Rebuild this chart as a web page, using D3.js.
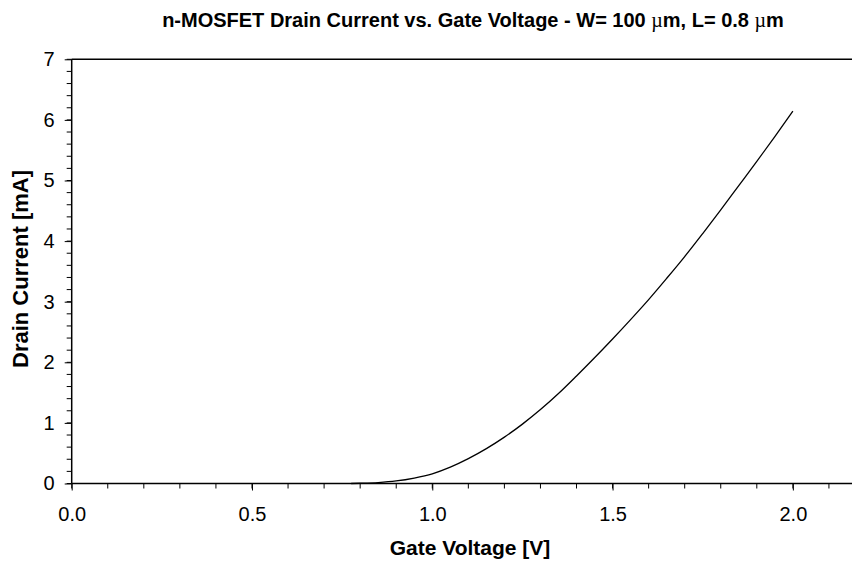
<!DOCTYPE html>
<html><head><meta charset="utf-8">
<script src="https://cdn.jsdelivr.net/npm/d3@7"></script>
<style>body{margin:0;background:#fff}svg{display:block}</style>
</head><body>
<svg id="c" width="852" height="563"></svg>
<script>
const gateVoltage = [0.775,0.8,0.85,0.9,0.95,1.0,1.05,1.1,1.15,1.2,1.25,1.3,1.35,1.4,1.45,1.5,1.55,1.6,1.65,1.7,1.75,1.8,1.85,1.9,1.95,2.0];
const drainCurrent = [0,0.004,0.016,0.042,0.09,0.16,0.27,0.41,0.575,0.765,0.98,1.22,1.485,1.775,2.075,2.385,2.705,3.035,3.385,3.745,4.125,4.515,4.915,5.315,5.725,6.145];
const xTicks = [0,0.5,1.0,1.5,2.0];
const yTicks = [0,1,2,3,4,5,6,7];

const svg = d3.select("#c");
const x = d3.scaleLinear().domain([0,2.164]).range([71.7,852]);
const y = d3.scaleLinear().domain([0,7]).range([483.5,59.3]);
const font = "Arial, 'Liberation Sans', sans-serif";

// top frame line
svg.append("line").attr("x1",x(0)).attr("x2",852).attr("y1",y(7)).attr("y2",y(7))
  .attr("stroke","#000").attr("stroke-width",1.5);

// minor ticks
const xMinor = d3.range(0,2.17,0.1);
svg.append("g").selectAll("line").data(xMinor).join("line")
  .attr("x1",d=>x(d)).attr("x2",d=>x(d)).attr("y1",y(0)).attr("y2",y(0)+5)
  .attr("stroke","#000").attr("stroke-width",1);
const yMinor = d3.range(0,7.01,0.2);
svg.append("g").selectAll("line").data(yMinor).join("line")
  .attr("x1",x(0)-5).attr("x2",x(0)).attr("y1",d=>y(d)).attr("y2",d=>y(d))
  .attr("stroke","#000").attr("stroke-width",1);

// axes
const xAxis = svg.append("g").attr("transform",`translate(0,${y(0)})`)
  .call(d3.axisBottom(x).tickValues(xTicks).tickFormat(d3.format(".1f")).tickSize(7).tickPadding(16));
xAxis.select(".domain").attr("d",`M${x(0)},0H852`).attr("stroke-width",1.5);
const yAxis = svg.append("g").attr("transform",`translate(${x(0)},0)`)
  .call(d3.axisLeft(y).tickValues(yTicks).tickFormat(d3.format("d")).tickSize(7).tickPadding(10));
yAxis.select(".domain").attr("d",`M0,${y(0)}V${y(7)}`).attr("stroke-width",1.5);
svg.selectAll(".tick text").attr("font-family",font).attr("font-size",20).attr("fill","#000");
svg.selectAll(".tick line").attr("stroke-width",1);

// curve
const pts = gateVoltage.map((v,i)=>[v,drainCurrent[i]]);
svg.append("path").datum(pts)
  .attr("d",d3.line().x(d=>x(d[0])).y(d=>y(d[1])).curve(d3.curveMonotoneX))
  .attr("fill","none").attr("stroke","#000").attr("stroke-width",1.3);

// title
const t = svg.append("text").attr("x",473).attr("y",27).attr("text-anchor","middle")
  .attr("font-family",font).attr("font-weight","bold").attr("font-size",20);
t.append("tspan").text("n-MOSFET Drain Current vs. Gate Voltage - W= 100 ");
t.append("tspan").attr("font-family","'Liberation Serif', serif").attr("font-weight","normal").text("µ");
t.append("tspan").text("m, L= 0.8 ");
t.append("tspan").attr("font-family","'Liberation Serif', serif").attr("font-weight","normal").text("µ");
t.append("tspan").text("m");

svg.append("text").attr("x",470).attr("y",555).attr("text-anchor","middle")
  .attr("font-family",font).attr("font-weight","bold").attr("font-size",21).text("Gate Voltage [V]");
svg.append("text").attr("transform","translate(28,269) rotate(-90)").attr("text-anchor","middle")
  .attr("font-family",font).attr("font-weight","bold").attr("font-size",22).text("Drain Current [mA]");
</script>
</body></html>
